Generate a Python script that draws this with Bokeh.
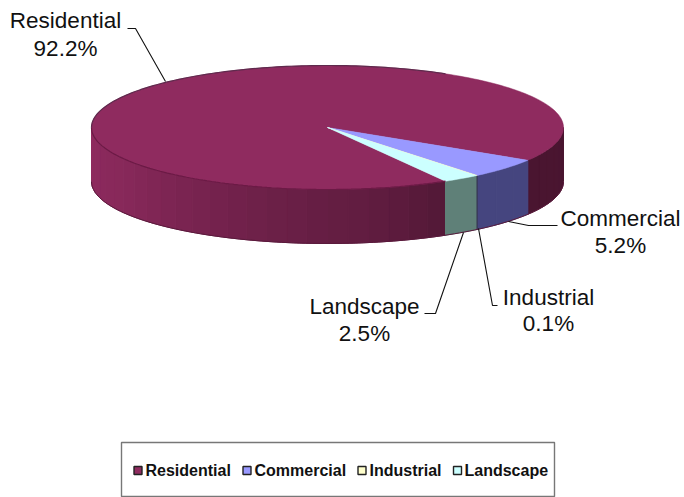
import numpy as np
from bokeh.plotting import figure
from bokeh.embed import file_html
from bokeh.resources import INLINE
from bokeh.core.properties import value

categories = ["Residential", "Commercial", "Industrial", "Landscape"]
shares = [92.2, 5.2, 0.1, 2.5]
pct_labels = ["92.2%", "5.2%", "0.1%", "2.5%"]
top_colors = ["#8f2b5f", "#9999ff", "#ffffcc", "#ccffff"]
wall_colors = ["#8f2b5f", "#45457f", "#33334f", "#5f8078"]

W, H = 684, 497
CX, CY, RX, RY, DEPTH = 327.0, 127.0, 236.0, 62.0, 54.0
START = 60.0

p = figure(width=W, height=H, x_range=(0, W), y_range=(H, 0),
           output_backend="svg", toolbar_location=None, min_border=0)
p.axis.visible = False
p.grid.visible = False
p.outline_line_color = None
p.background_fill_color = "white"


def rim(a0, a1, n=80):
    t = np.radians(np.linspace(a0, a1, n))
    return CX + RX * np.cos(t), CY + RY * np.sin(t)


def mix(hex_col, f):
    c = [int(hex_col[i:i + 2], 16) for i in (1, 3, 5)]
    return "#%02x%02x%02x" % tuple(int(max(0, min(255, v * f))) for v in c)


# slice angular spans, walking clockwise on screen from START
spans = []
a = START
for s in shares:
    spans.append((a, a + s * 3.6))
    a += s * 3.6

# walls: only the front half (0..180 deg) is visible
for i, (a0, a1) in enumerate(spans):
    for lo, hi in ((a0, a1), (a0 - 360, a1 - 360)):
        lo2, hi2 = max(lo, 0.0), min(hi, 180.0)
        if hi2 <= lo2:
            continue
        n = max(1, int((hi2 - lo2) / 5.0))
        edges = np.linspace(lo2, hi2, n + 1)
        for e0, e1 in zip(edges[:-1], edges[1:]):
            x, y = rim(e0, e1, 5)
            xs = np.concatenate([x, x[::-1]])
            ys = np.concatenate([y, y[::-1] + DEPTH])
            if i == 0:
                mid = (e0 + e1) / 2
                if mid < 60:
                    col = "#4a1530"
                else:
                    f = np.interp(mid, [60, 75, 110, 150, 180], [0.58, 0.66, 0.78, 0.95, 1.0])
                    col = mix(wall_colors[0], f)
            else:
                col = wall_colors[i]
            p.patch(xs, ys, fill_color=col, line_color=col, line_width=1)

# bottom edge of the wall
x, y = rim(0, 180, 120)
p.line(x, y + DEPTH, line_color="#5a1a3c", line_width=1)

# top faces
for i, (a0, a1) in enumerate(spans):
    x, y = rim(a0, a1, max(3, int(a1 - a0)))
    xs = np.concatenate([[CX], x])
    ys = np.concatenate([[CY], y])
    p.patch(xs, ys, fill_color=top_colors[i], line_color=top_colors[i], line_width=0.5)

# dark shading along the rim
x, y = rim(60, 180, 100)
p.line(x, y, line_color="#6b1a45", line_width=1.2)
x, y = rim(180, 300, 100)
p.line(x, y, line_color="#5f2a4d", line_width=1.2)

# leader lines
leaders_x = [[127, 135, 165], [508, 528, 557], [478, 492, 497], [463, 435, 424]]
leaders_y = [[28, 28, 81], [221, 225, 225], [228, 305, 305], [232, 313, 313]]
p.multi_line(leaders_x, leaders_y, line_color="#111111", line_width=1.1)

# data labels
label_x = [65, 620, 548, 364]
label_y = [[20, 48], [218, 245], [297, 323], [306, 333]]
for name, pct, lx, ly in zip(categories, pct_labels, label_x, label_y):
    p.text([lx, lx], ly, text=[name, pct], text_font=value("Liberation Sans"),
           text_font_size="22.5px", text_align="center", text_baseline="middle",
           text_color="#111111")

# legend box
p.patch([121, 554, 554, 121], [442, 442, 496, 496], fill_color="white", line_color="#777777", line_width=1.4)
mark_x = [137.5, 246.5, 361.5, 457]
text_x = [145, 254, 369, 464]
p.scatter(mark_x, [470] * 4, marker="square", size=8, fill_color=top_colors, line_color="#222222", line_width=1.4)
p.text(text_x, [470] * 4, text=categories, text_font=value("Liberation Sans"), text_font_style="bold",
       text_font_size="16px", text_align="left", text_baseline="middle", text_color="#111111")

open("out.html", "w").write(file_html(p, INLINE))
